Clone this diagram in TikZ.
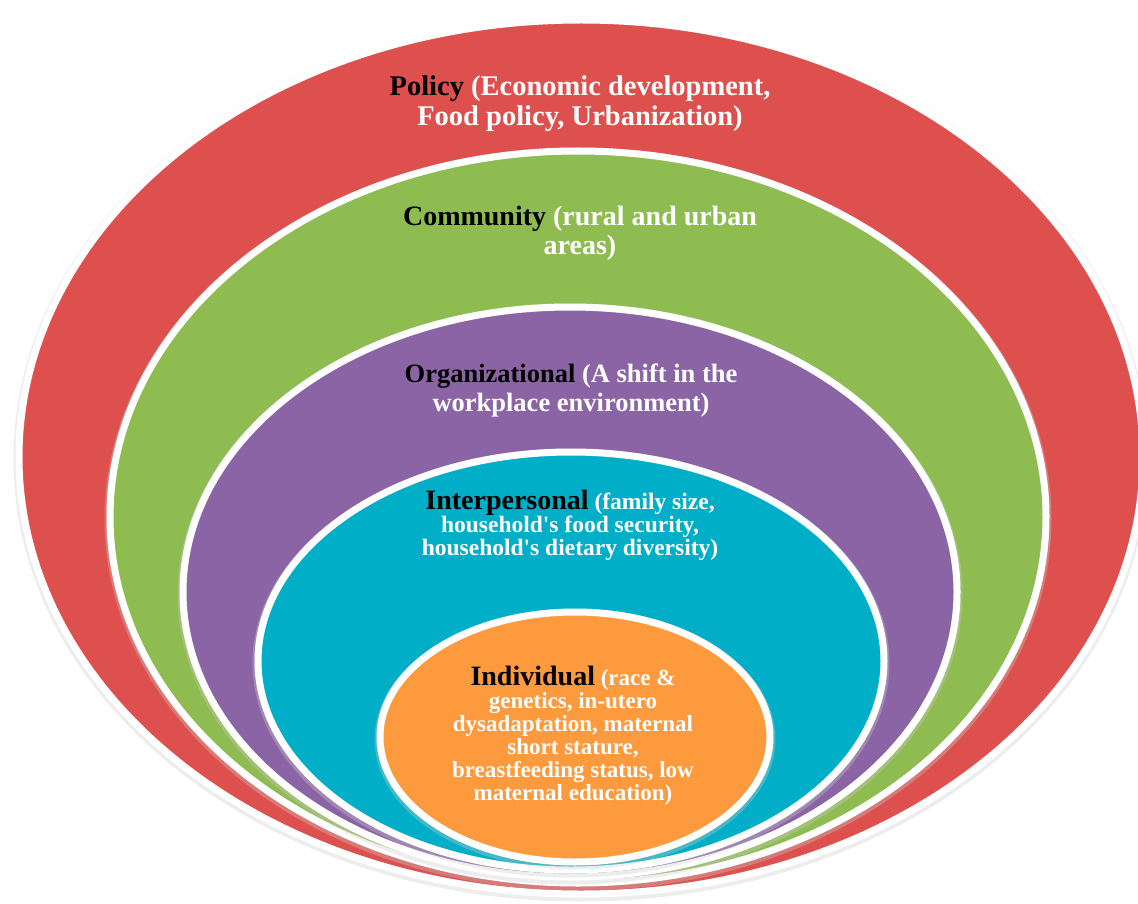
\documentclass[tikz,border=0pt]{standalone}
\usepackage{fontspec}
\setmainfont{Liberation Serif}[Ligatures=TeXOff]
\definecolor{cred}{HTML}{DE504E}
\definecolor{cgreen}{HTML}{8EBC51}
\definecolor{cpurple}{HTML}{8A64A4}
\definecolor{cteal}{HTML}{00AEC7}
\definecolor{corange}{HTML}{FD9A3D}
\tikzset{
  ring/.style={fill=#1, draw=white, line width=7pt},
  shade ring/.style={draw=black!20, line width=9pt, opacity=0.35},
  lbl/.style 2 args={align=center, text=white, font=\bfseries\fontsize{#1}{#2}\selectfont, inner sep=0pt},
}
\newcommand{\blk}[1]{\textcolor{black}{#1}}
\begin{document}
\begin{tikzpicture}[x=1pt,y=-1pt]
\useasboundingbox (0,0) rectangle (1138,904);
\clip (0,0) rectangle (1138,904);
% red
\draw[shade ring] (581,459) ellipse [x radius=563, y radius=438];
\draw[ring=cred] (581,457) ellipse [x radius=562, y radius=437];
% green
\draw[shade ring] (578,519) ellipse [x radius=469, y radius=367];
\draw[ring=cgreen] (578,517) ellipse [x radius=468, y radius=366];
% purple
\draw[shade ring] (570,594) ellipse [x radius=388, y radius=286];
\draw[ring=cpurple] (570,592) ellipse [x radius=387, y radius=285];
% teal
\draw[shade ring] (571,663) ellipse [x radius=314, y radius=210];
\draw[ring=cteal] (571,661) ellipse [x radius=313, y radius=209];
% orange
\draw[shade ring] (575,739) ellipse [x radius=196, y radius=126];
\draw[ring=corange] (575,737) ellipse [x radius=195, y radius=125];

\node[lbl={28.5}{30}] (policy) at (580,104) {\blk{Policy} (Economic development,\\Food policy, Urbanization)};
\node[lbl={28}{29}] (community) at (580,233) {\blk{Community} (rural and urban\\areas)};
\node[lbl={26.5}{29}] (org) at (571,390) {\blk{Organizational} (A shift in the\\workplace environment)};
\node[lbl={23.5}{23}] (inter) at (570,525) {\blk{\fontsize{28}{27}\selectfont Interpersonal} (family size,\\household's food security,\\household's dietary diversity)};
\node[lbl={23}{23}] (indiv) at (573,736) {\blk{\fontsize{28}{25}\selectfont Individual} (race \&\\genetics, in-utero\\dysadaptation, maternal\\short stature,\\breastfeeding status, low\\maternal education)};
\end{tikzpicture}
\end{document}
